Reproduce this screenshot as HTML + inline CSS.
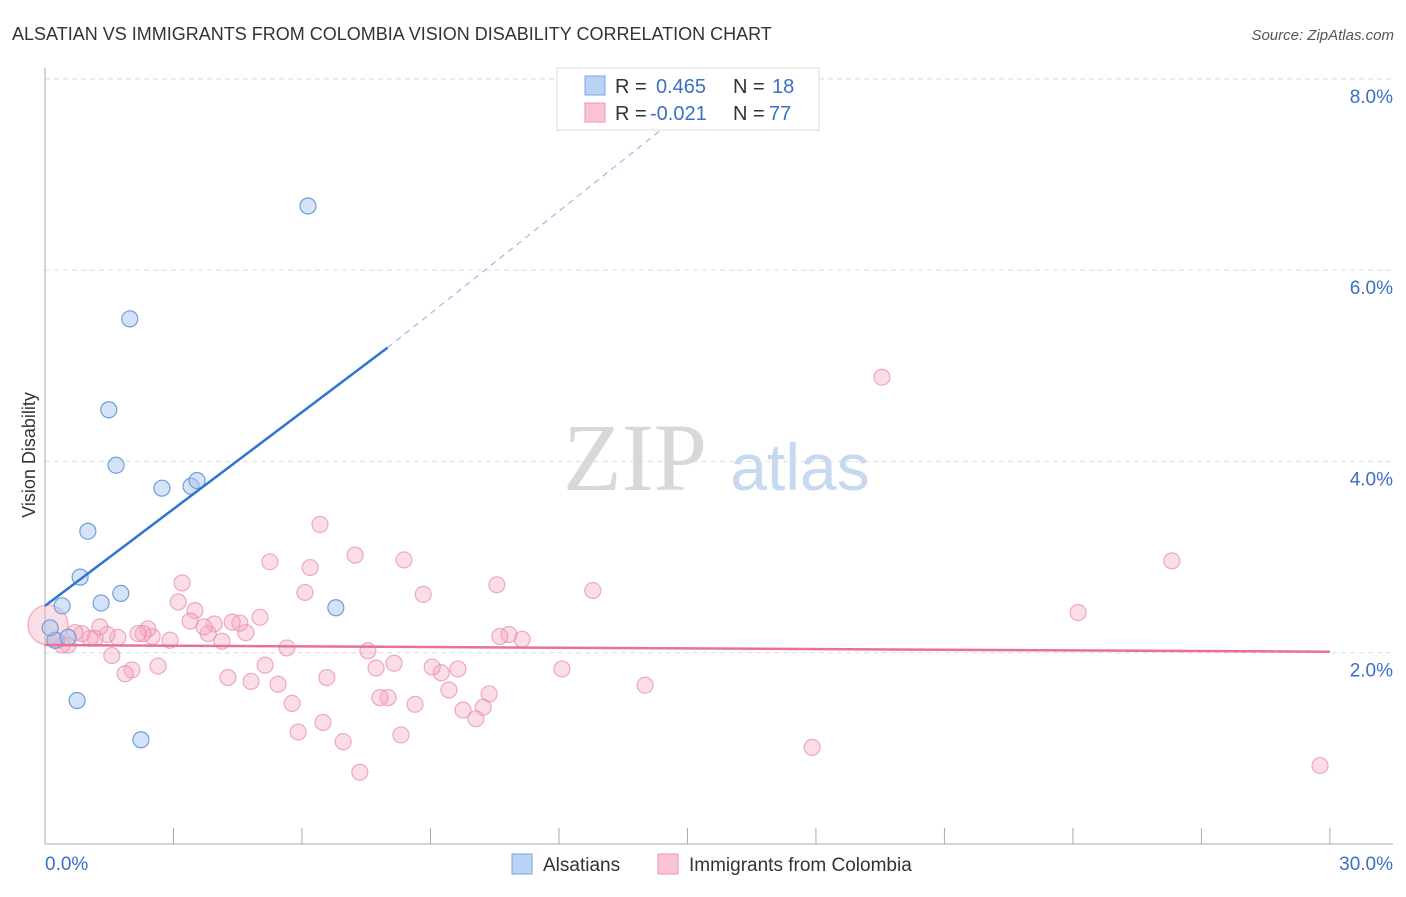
<!DOCTYPE html>
<html><head><meta charset="utf-8"><style>
body{margin:0;background:#fff;font-family:"Liberation Sans",sans-serif}
svg text{font-family:"Liberation Sans",sans-serif}
</style></head><body>
<svg id="c" width="1406" height="892" xmlns="http://www.w3.org/2000/svg">
<text x="12" y="40" font-size="18" fill="#333">ALSATIAN VS IMMIGRANTS FROM COLOMBIA VISION DISABILITY CORRELATION CHART</text>
<text x="1394" y="40" font-size="15" fill="#555" text-anchor="end" font-style="italic">Source: ZipAtlas.com</text>
<g id="grid"></g>
<text x="635" y="490" font-size="96" fill="#d8d8d8" text-anchor="middle" style="font-family:'Liberation Serif',serif">ZIP</text>
<text x="800" y="490" font-size="66" fill="#c7d9f0" text-anchor="middle">atlas</text>
<g id="pts"></g>
<g id="trends"></g>
<text x="35" y="455" font-size="18" fill="#333" text-anchor="middle" transform="rotate(-90 35 455)">Vision Disability</text>
<g>
<rect x="557" y="68" width="262" height="62" fill="#fff" stroke="#ddd"/>
<rect x="585" y="76" width="20" height="19" fill="#b8d3f5" stroke="#7aa6e0"/>
<rect x="585" y="103" width="20" height="19" fill="#fac4d4" stroke="#ec94b0"/>
<text y="93" font-size="20" fill="#333"><tspan x="615">R =</tspan><tspan x="656" fill="#3a6fc8">0.465</tspan><tspan x="733">N =</tspan><tspan x="772" fill="#3a6fc8">18</tspan></text>
<text y="120" font-size="20" fill="#333"><tspan x="615">R =</tspan><tspan x="650" fill="#3a6fc8">-0.021</tspan><tspan x="733">N =</tspan><tspan x="769" fill="#3a6fc8">77</tspan></text>
</g>
<g>
<rect x="512" y="854" width="20" height="20" fill="#b8d3f5" stroke="#7aa6e0"/>
<text x="543" y="871" font-size="19" fill="#333">Alsatians</text>
<rect x="658" y="854" width="20" height="20" fill="#fac4d4" stroke="#ec94b0"/>
<text x="689" y="871" font-size="19" fill="#333">Immigrants from Colombia</text>
</g>
</svg>
<script>
const yTicks=[2,4,6,8];
const yTickLabels=["2.0%","4.0%","6.0%","8.0%"];
const xTickCount=10;
const xLabels=["0.0%","30.0%"];
const blueX=[6.14,1.98,1.49,1.66,2.73,3.41,3.55,1.00,0.82,1.77,1.31,0.40,6.79,0.23,0.75,2.24,0.12,0.54];
const blueY=[6.67,5.49,4.54,3.96,3.72,3.74,3.80,3.27,2.79,2.62,2.52,2.49,2.47,2.13,1.50,1.09,2.26,2.16];
const pinkX=[19.54,26.31,24.12,29.77,17.91,14.01,12.79,12.07,11.14,10.83,10.62,10.55,10.37,10.23,10.06,9.76,9.64,9.43,9.25,9.04,8.83,8.64,8.38,8.31,8.15,8.01,7.82,7.73,7.54,7.35,7.24,6.96,6.58,6.49,6.42,6.19,6.07,5.91,5.77,5.65,5.44,5.25,5.14,5.02,4.81,4.69,4.55,4.37,4.27,4.13,3.95,3.81,3.71,3.50,3.39,3.20,3.11,2.92,2.64,2.50,2.40,2.29,2.17,2.03,1.87,1.70,1.56,1.45,1.28,1.17,1.05,0.86,0.70,0.54,0.40,0.28,0.07];
const pinkY=[4.88,2.96,2.42,0.82,1.01,1.66,2.65,1.83,2.14,2.19,2.17,2.71,1.57,1.43,1.31,1.40,1.83,1.61,1.79,1.85,2.61,1.46,2.97,1.14,1.89,1.53,1.53,1.84,2.02,0.75,3.02,1.07,1.74,1.27,3.34,2.89,2.63,1.17,1.47,2.05,1.67,2.95,1.87,2.37,1.70,2.21,2.31,2.32,1.74,2.12,2.30,2.20,2.27,2.44,2.33,2.73,2.53,2.13,1.86,2.17,2.25,2.20,2.20,1.82,1.78,2.16,1.97,2.19,2.27,2.15,2.15,2.20,2.21,2.08,2.08,2.13,2.29];
const blueTrend=[0,2.49,8.0,5.19,15.6,7.9];
const pinkTrend=[0,2.08,30,2.01];
const NS="http://www.w3.org/2000/svg";
const X=v=>45+v*42.83, Y=v=>844-v*95.65;
function mk(t,a,p){const e=document.createElementNS(NS,t);for(const k in a)e.setAttribute(k,a[k]);p.appendChild(e);return e;}
const grid=document.getElementById('grid');
yTicks.forEach((t,i)=>{
 const l=mk('line',{x1:45,x2:1393,y1:Y(t),y2:Y(t),stroke:'#ddd','stroke-dasharray':'5,4'},grid);
 
 
 const tx=mk('text',{x:1393,y:Y(t)+24,'font-size':19,fill:'#3a6fc8','text-anchor':'end'},grid);
 tx.textContent=yTickLabels[i];
 
 
});
const topLine=mk('line',{x1:45,x2:1393,y1:79,y2:79,stroke:'#ddd','stroke-dasharray':'5,4'},grid);


const ax=mk('line',{x1:45,x2:1393,y1:844,y2:844,stroke:'#aaa'},grid);


const ay=mk('line',{x1:45,x2:45,y1:68,y2:844,stroke:'#aaa'},grid);


for(let i=1;i<=xTickCount;i++){
 const l=mk('line',{x1:X(i*3),x2:X(i*3),y1:828,y2:844,stroke:'#aaa'},grid);
 
 
}
[[0,'start',45],[30,'end',1393]].forEach((d,i)=>{
 const t=mk('text',{x:d[2],y:870,'font-size':19,fill:'#3a6fc8','text-anchor':d[1]},grid);
 t.textContent=xLabels[i];
 
 
});
const pts=document.getElementById('pts');
pinkX.forEach((x,i)=>{
 const r=(i===pinkX.length-1)?20:8;
 const c=mk('circle',{cx:X(x),cy:Y(pinkY[i]),r:r,fill:'#f5a9c0','fill-opacity':0.4,stroke:'#e88aa8','stroke-opacity':0.7,'stroke-width':1.2},pts);
 
 
});
blueX.forEach((x,i)=>{
 const c=mk('circle',{cx:X(x),cy:Y(blueY[i]),r:8,fill:'#a9c8f0','fill-opacity':0.5,stroke:'#6f9fd8','stroke-width':1.2},pts);
 
 
});
const tr=document.getElementById('trends');
const b1=mk('line',{x1:X(blueTrend[0]),y1:Y(blueTrend[1]),x2:X(blueTrend[2]),y2:Y(blueTrend[3]),stroke:'#2f74d0','stroke-width':2.5},tr);


const b2=mk('line',{x1:X(blueTrend[2]),y1:Y(blueTrend[3]),x2:X(blueTrend[4]),y2:Y(blueTrend[5]),stroke:'#9bbbe6','stroke-width':1.2,'stroke-dasharray':'6,5'},tr);


const p1=mk('line',{x1:X(pinkTrend[0]),y1:Y(pinkTrend[1]),x2:X(pinkTrend[2]),y2:Y(pinkTrend[3]),stroke:'#e8709a','stroke-width':2.5},tr);


</script>
</body></html>
